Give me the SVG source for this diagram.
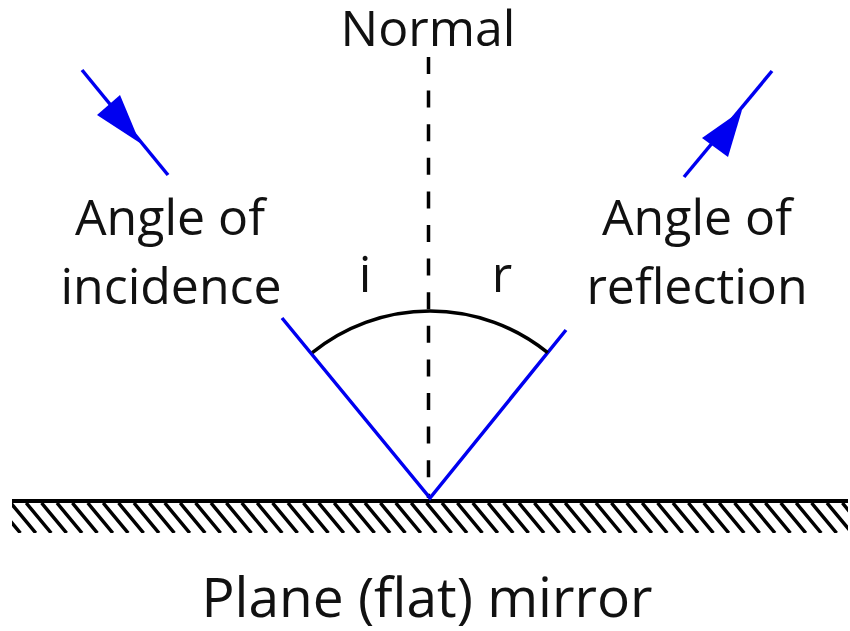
<svg xmlns="http://www.w3.org/2000/svg" width="850" height="631" viewBox="0 0 850 631">
<defs>
<style>
.t{font-family:"Open Sans","Liberation Sans",sans-serif;font-size:50px;fill:#111;text-anchor:middle}
.ray{stroke:#0000f0;stroke-width:3.5;fill:none;stroke-linecap:butt}
.head{fill:#0000f0}
.blk{stroke:#000;fill:none}
</style>
<clipPath id="hc"><rect x="12" y="502" width="836" height="31"/></clipPath>
</defs>
<rect width="850" height="631" fill="#fff"/>
<g id="mirror">
<g clip-path="url(#hc)">
<g stroke="#000" stroke-width="3.5">
<path d="M-20,503 l25,30 M-4.6,503 l25,30 M10.8,503 l25,30 M26.2,503 l25,30 M41.6,503 l25,30 M57,503 l25,30 M72.4,503 l25,30 M87.8,503 l25,30 M103.2,503 l25,30 M118.6,503 l25,30 M134,503 l25,30 M149.4,503 l25,30 M164.8,503 l25,30 M180.2,503 l25,30 M195.6,503 l25,30 M211,503 l25,30 M226.4,503 l25,30 M241.8,503 l25,30 M257.2,503 l25,30 M272.6,503 l25,30 M288,503 l25,30 M303.4,503 l25,30 M318.8,503 l25,30 M334.2,503 l25,30 M349.6,503 l25,30 M365,503 l25,30 M380.4,503 l25,30 M395.8,503 l25,30 M411.2,503 l25,30 M426.6,503 l25,30 M442,503 l25,30 M457.4,503 l25,30 M472.8,503 l25,30 M488.2,503 l25,30 M503.6,503 l25,30 M519,503 l25,30 M534.4,503 l25,30 M549.8,503 l25,30 M565.2,503 l25,30 M580.6,503 l25,30 M596,503 l25,30 M611.4,503 l25,30 M626.8,503 l25,30 M642.2,503 l25,30 M657.6,503 l25,30 M673,503 l25,30 M688.4,503 l25,30 M703.8,503 l25,30 M719.2,503 l25,30 M734.6,503 l25,30 M750,503 l25,30 M765.4,503 l25,30 M780.8,503 l25,30 M796.2,503 l25,30 M811.6,503 l25,30 M827,503 l25,30 M842.4,503 l25,30"/>
</g>
</g>
<line x1="12" y1="501" x2="848" y2="501" stroke="#000" stroke-width="4"/>
</g>
<g id="normal">
<line x1="428.5" y1="57" x2="428.5" y2="498" class="blk" stroke-width="3.5" stroke-dasharray="17 16.6"/>
<text class="t" x="428" y="46">Normal</text>
</g>
<g id="connectors">
<path class="ray" d="M282,318 L430,498 L566,330"/>
<path class="blk" stroke-width="3.5" d="M312.3,352.7 A187,187 0 0 1 547.7,352.7"/>
<line class="ray" x1="82" y1="70" x2="168" y2="175"/>
<polygon class="head" points="140,143 97,115 120,95"/>
<line class="ray" x1="684" y1="177" x2="772" y2="71"/>
<polygon class="head" points="742,110 702,138 728,157"/>
</g>
<g id="incidence">
<text class="t" x="170" y="235">Angle of</text>
<text class="t" x="171" y="304">incidence</text>
</g>
<g id="reflection">
<text class="t" x="697" y="235">Angle of</text>
<text class="t" x="697" y="304">reflection</text>
</g>
<g id="angle-labels">
<text class="t" x="365" y="292">i</text>
<text class="t" x="502" y="292">r</text>
</g>
<g id="mirror-label">
<text class="t" x="427" y="617" style="font-size:55px">Plane (flat) mirror</text>
</g>
</svg>
